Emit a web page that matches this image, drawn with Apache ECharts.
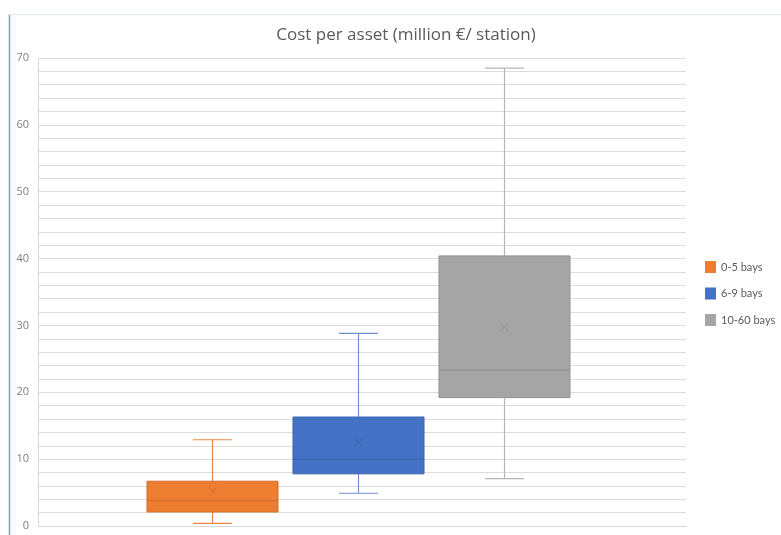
<!DOCTYPE html>
<html>
<head>
<meta charset="utf-8">
<title>Cost per asset</title>
<script src="https://cdn.jsdelivr.net/npm/echarts@6/dist/echarts.min.js"></script>
<style>
  html, body { margin: 0; padding: 0; background: #ffffff; }
  #chart { width: 781px; height: 535px; }
</style>
</head>
<body>
<div id="chart"></div>
<script>
// Station size groups
const categories = ['0-5 bays', '6-9 bays', '10-60 bays'];

// Five-number summary and mean per group (million € per station)
const minVals = [0.4, 4.9, 7.1];
const q1Vals = [2.1, 7.8, 19.2];
const medianVals = [3.8, 10.0, 23.3];
const q3Vals = [6.7, 16.3, 40.4];
const maxVals = [12.9, 28.8, 68.5];
const meanVals = [5.2, 12.5, 29.7];

// Value axis ticks
const yTicks = [0, 10, 20, 30, 40, 50, 60, 70];

const fillColors = ['#ED7D31', '#4472C4', '#A5A5A5'];
const edgeColors = ['#D2702C', '#3A63AD', '#929292'];
const whiskerColors = ['#EE8645', '#6F8FD0', '#B5B5B5'];

// Horizontal placement of each group's box, as fractions of the band
const groupShift = [-0.2307, -0.0054, 0.2199];
const boxFrac = 0.2022;
const capFrac = 0.06;

function renderBox(params, api) {
  const i = params.seriesIndex;
  const band = api.size([1, 0])[0];
  const base = api.coord([api.value(0), 0]);
  const cx = base[0] + groupShift[i] * band;
  const half = boxFrac * band / 2;
  const capHalf = capFrac * band / 2;
  const y = v => api.coord([api.value(0), v])[1];
  const yMin = y(api.value(1));
  const yQ1 = y(api.value(2));
  const yMed = y(api.value(3));
  const yQ3 = y(api.value(4));
  const yMax = y(api.value(5));
  const yMean = y(api.value(6));
  const wStyle = { stroke: whiskerColors[i], lineWidth: 1.2 };
  const m = 4;
  return {
    type: 'group',
    children: [
      { type: 'line', shape: { x1: cx, y1: yQ3, x2: cx, y2: yMax }, style: wStyle },
      { type: 'line', shape: { x1: cx, y1: yQ1, x2: cx, y2: yMin }, style: wStyle },
      { type: 'line', shape: { x1: cx - capHalf, y1: yMax, x2: cx + capHalf, y2: yMax }, style: wStyle },
      { type: 'line', shape: { x1: cx - capHalf, y1: yMin, x2: cx + capHalf, y2: yMin }, style: wStyle },
      {
        type: 'rect',
        shape: { x: cx - half, y: yQ3, width: half * 2, height: yQ1 - yQ3 },
        style: { fill: fillColors[i], stroke: edgeColors[i], lineWidth: 1 }
      },
      { type: 'line', shape: { x1: cx - half, y1: yMed, x2: cx + half, y2: yMed }, style: { stroke: edgeColors[i], lineWidth: 1.2 } },
      { type: 'line', shape: { x1: cx - m, y1: yMean - m, x2: cx + m, y2: yMean + m }, style: { stroke: edgeColors[i], lineWidth: 1 } },
      { type: 'line', shape: { x1: cx - m, y1: yMean + m, x2: cx + m, y2: yMean - m }, style: { stroke: edgeColors[i], lineWidth: 1 } }
    ]
  };
}

const series = categories.map((name, i) => ({
  name: name,
  type: 'custom',
  renderItem: renderBox,
  itemStyle: { color: fillColors[i] },
  encode: { x: 0, y: [1, 2, 3, 4, 5, 6] },
  data: [[0, minVals[i], q1Vals[i], medianVals[i], q3Vals[i], maxVals[i], meanVals[i]]],
  z: 3
}));

const chart = echarts.init(document.getElementById('chart'), null, { renderer: 'canvas' });
chart.setOption({
  backgroundColor: '#ffffff',
  animation: false,
  textStyle: { fontFamily: '"Open Sans", "Noto Sans", sans-serif' },
  title: {
    text: 'Cost per asset (million €/ station)',
    left: 401,
    textAlign: 'center',
    top: 22,
    textStyle: { fontSize: 17, fontWeight: 'normal', color: '#595959', fontFamily: '"Open Sans", "Noto Sans", sans-serif' }
  },
  graphic: [
    { type: 'line', shape: { x1: 9.5, y1: 14, x2: 9.5, y2: 535 }, style: { stroke: '#7C9BDA', lineWidth: 1.5 }, silent: true },
    { type: 'line', shape: { x1: 9, y1: 14.5, x2: 781, y2: 14.5 }, style: { stroke: '#E1E7F2', lineWidth: 1 }, silent: true }
  ],
  legend: {
    orient: 'vertical',
    left: 705,
    top: 261,
    padding: 0,
    itemWidth: 11,
    itemHeight: 12,
    itemGap: 14.5,
    icon: 'rect',
    data: categories,
    textStyle: { fontSize: 11, color: '#595959', fontFamily: 'Lato, "Open Sans", sans-serif' }
  },
  grid: { left: 38, right: 95, top: 58, bottom: 9, containLabel: false },
  xAxis: {
    type: 'category',
    data: ['Cost'],
    axisLine: { show: true, lineStyle: { color: '#D9D9D9' } },
    axisTick: { show: false },
    axisLabel: { show: false },
    splitLine: { show: false }
  },
  yAxis: {
    type: 'value',
    min: yTicks[0],
    max: yTicks[yTicks.length - 1],
    interval: yTicks[1] - yTicks[0],
    axisLine: { show: true, lineStyle: { color: '#D9D9D9' } },
    axisTick: { show: false },
    axisLabel: { fontSize: 11, color: '#7F7F7F', margin: 9 },
    splitLine: { show: true, lineStyle: { color: '#DCDCDC', width: 1 } },
    minorTick: { show: false, splitNumber: 5 },
    minorSplitLine: { show: true, lineStyle: { color: '#DCDCDC', width: 1 } }
  },
  series: series
});
</script>
</body>
</html>
